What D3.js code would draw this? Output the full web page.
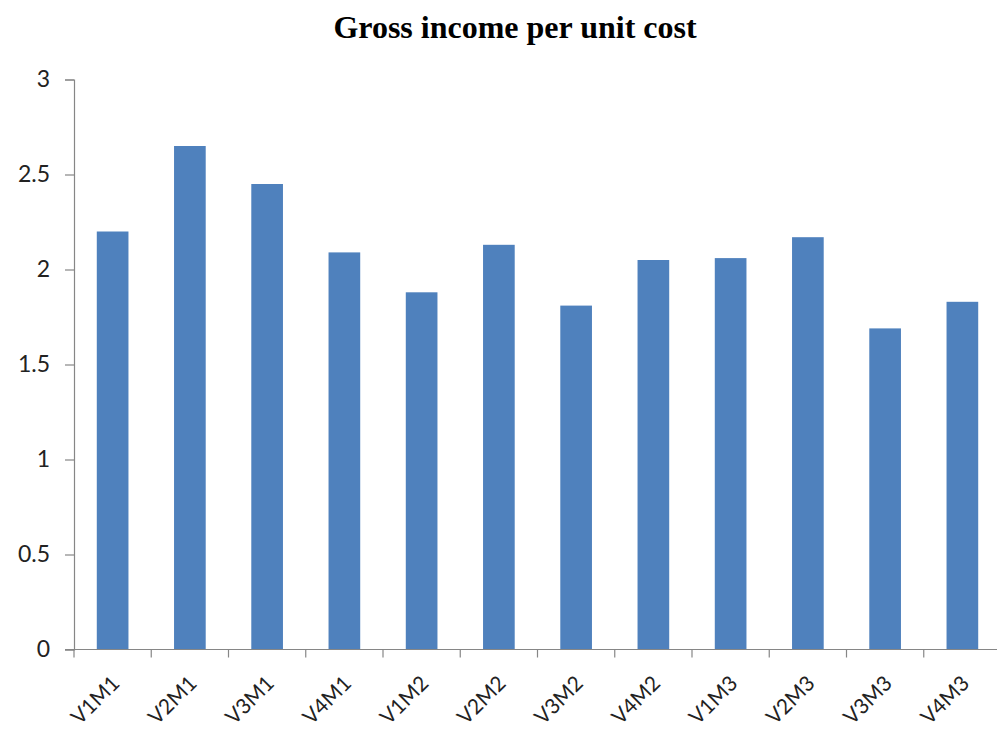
<!DOCTYPE html>
<html>
<head>
<meta charset="utf-8">
<script src="https://cdn.jsdelivr.net/npm/d3@7"></script>
<style>
  html, body { margin: 0; padding: 0; background: #ffffff; }
  svg { display: block; }
</style>
</head>
<body>
<div id="chart"></div>
<script>
// Gross income per unit cost by variety (V) and method (M)
const categories = ["V1M1", "V2M1", "V3M1", "V4M1", "V1M2", "V2M2", "V3M2", "V4M2", "V1M3", "V2M3", "V3M3", "V4M3"];
const values = [2.20, 2.65, 2.45, 2.09, 1.88, 2.13, 1.81, 2.05, 2.06, 2.17, 1.69, 1.83];
const yTicks = [0, 0.5, 1, 1.5, 2, 2.5, 3];
const titleText = "Gross income per unit cost";

const width = 997, height = 731;
const margin = { top: 79.5, right: -4, bottom: 81.5, left: 74 };

const svg = d3.select("#chart").append("svg")
  .attr("width", width)
  .attr("height", height);

const x = d3.scaleBand()
  .domain(categories)
  .range([margin.left, width - margin.right])
  .paddingInner(0.59)
  .paddingOuter(0.295);

const y = d3.scaleLinear()
  .domain([0, 3])
  .range([height - margin.bottom, margin.top]);

// Title
svg.append("text")
  .attr("x", 515)
  .attr("y", 38)
  .attr("text-anchor", "middle")
  .attr("font-family", "'Liberation Serif', 'Times New Roman', serif")
  .attr("font-weight", "bold")
  .attr("font-size", 32)
  .attr("fill", "#000")
  .text(titleText);

// Bars
svg.append("g")
  .selectAll("rect")
  .data(categories.map((c, i) => ({ c, v: values[i] })))
  .join("rect")
  .attr("x", d => x(d.c))
  .attr("width", x.bandwidth())
  .attr("y", d => y(d.v))
  .attr("height", d => y(0) - y(d.v))
  .attr("fill", "#4f81bd");

// Y axis
const yAxis = svg.append("g")
  .attr("transform", `translate(${margin.left},0)`)
  .call(d3.axisLeft(y).tickValues(yTicks).tickSize(9).tickPadding(15).tickFormat(d3.format("")));
yAxis.select(".domain").attr("stroke", "#868686").attr("stroke-width", 1.2);
yAxis.selectAll(".tick line").attr("stroke", "#868686").attr("stroke-width", 1.2);
yAxis.selectAll(".tick text")
  .attr("font-family", "Lato, 'Open Sans', sans-serif")
  .attr("font-size", 23)
  .attr("fill", "#222");

// X axis: ticks sit on category boundaries
const xAxisG = svg.append("g")
  .attr("transform", `translate(0,${y(0)})`);
xAxisG.append("line")
  .attr("x1", margin.left - 9)
  .attr("x2", width)
  .attr("stroke", "#868686")
  .attr("stroke-width", 1.2);
const step = x.step();
xAxisG.selectAll(".xtick")
  .data(categories)
  .join("line")
  .attr("class", "xtick")
  .attr("x1", d => x(d) - x.paddingOuter() * step)
  .attr("x2", d => x(d) - x.paddingOuter() * step)
  .attr("y1", 0)
  .attr("y2", 8)
  .attr("stroke", "#868686")
  .attr("stroke-width", 1.2);
xAxisG.selectAll(".xlabel")
  .data(categories)
  .join("text")
  .attr("class", "xlabel")
  .attr("transform", d => `translate(${x(d) + x.bandwidth() / 2 + 3},${30}) rotate(-45)`)
  .attr("text-anchor", "end")
  .attr("dy", "0.35em")
  .attr("font-family", "Lato, 'Open Sans', sans-serif")
  .attr("font-size", 21)
  .attr("fill", "#222")
  .text(d => d);
</script>
</body>
</html>
